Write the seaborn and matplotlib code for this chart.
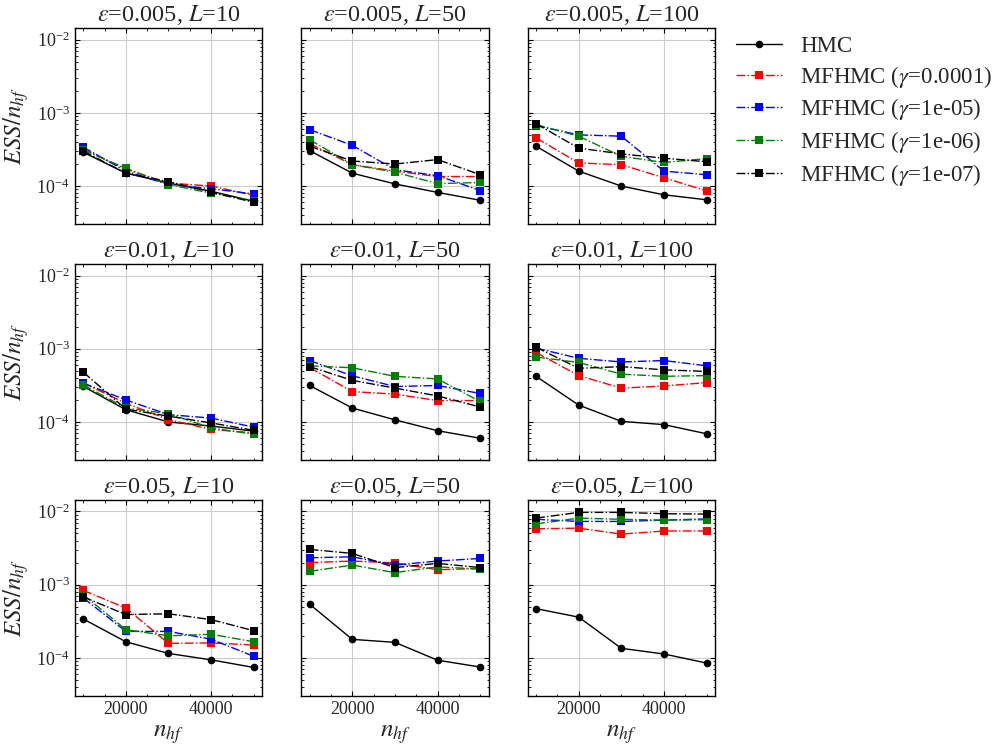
import numpy as np
import pandas as pd
import seaborn as sns
import matplotlib.pyplot as plt
from matplotlib.ticker import AutoMinorLocator, LogLocator, NullFormatter

# sample sizes
n_hf = [10000, 20000, 30000, 40000, 50000]

eps_list = [0.005, 0.01, 0.05]
L_list = [10, 50, 100]

legend_labels = ['HMC', r'MFHMC ($\gamma$=0.0001)', r'MFHMC ($\gamma$=1e-05)',
                 r'MFHMC ($\gamma$=1e-06)', r'MFHMC ($\gamma$=1e-07)']
colors = ['black', 'red', 'blue', 'green', 'black']
markers = ['o', 's', 's', 's', 's']
linestyles = ['-', '-.', '-.', '-.', '-.']

# ESS / n_hf, one list per (eps, L) panel, order = legend_labels
ess_005_10 = [
    [2.9e-4, 1.5e-4, 1.1e-4, 8.5e-5, 6.2e-5],
    [3.2e-4, 1.7e-4, 1.1e-4, 1.0e-4, 7.5e-5],
    [3.4e-4, 1.6e-4, 1.05e-4, 9.2e-5, 7.8e-5],
    [3.1e-4, 1.75e-4, 1.05e-4, 8.0e-5, 6.3e-5],
    [3.0e-4, 1.5e-4, 1.15e-4, 8.3e-5, 6.0e-5],
]
ess_005_50 = [
    [3.05e-4, 1.5e-4, 1.07e-4, 8.2e-5, 6.4e-5],
    [3.8e-4, 1.96e-4, 1.6e-4, 1.35e-4, 1.35e-4],
    [5.9e-4, 3.6e-4, 1.67e-4, 1.39e-4, 8.7e-5],
    [4.3e-4, 1.96e-4, 1.55e-4, 1.08e-4, 1.12e-4],
    [3.5e-4, 2.2e-4, 2.0e-4, 2.3e-4, 1.43e-4],
]
ess_005_100 = [
    [3.5e-4, 1.6e-4, 1.0e-4, 7.6e-5, 6.5e-5],
    [4.55e-4, 2.07e-4, 1.96e-4, 1.3e-4, 8.6e-5],
    [6.7e-4, 5.0e-4, 4.8e-4, 1.6e-4, 1.43e-4],
    [6.9e-4, 4.8e-4, 2.55e-4, 2.1e-4, 2.37e-4],
    [7.1e-4, 3.3e-4, 2.75e-4, 2.4e-4, 2.15e-4],
]
ess_01_10 = [
    [3.06e-4, 1.47e-4, 1.0e-4, 8.8e-5, 7.5e-5],
    [3.4e-4, 1.8e-4, 1.08e-4, 7.9e-5, 7.1e-5],
    [3.4e-4, 2.0e-4, 1.26e-4, 1.13e-4, 8.5e-5],
    [3.2e-4, 1.55e-4, 1.3e-4, 8.3e-5, 6.8e-5],
    [4.8e-4, 1.5e-4, 1.2e-4, 9.7e-5, 7.7e-5],
]
ess_01_50 = [
    [3.15e-4, 1.55e-4, 1.07e-4, 7.6e-5, 6.0e-5],
    [5.55e-4, 2.6e-4, 2.4e-4, 1.96e-4, 1.96e-4],
    [6.9e-4, 4.27e-4, 3.05e-4, 3.15e-4, 2.45e-4],
    [5.85e-4, 5.5e-4, 4.2e-4, 3.87e-4, 1.9e-4],
    [5.7e-4, 3.7e-4, 2.9e-4, 2.27e-4, 1.6e-4],
]
ess_01_100 = [
    [4.2e-4, 1.7e-4, 1.02e-4, 9.2e-5, 6.9e-5],
    [8.9e-4, 4.3e-4, 2.9e-4, 3.1e-4, 3.45e-4],
    [1.02e-3, 7.4e-4, 6.6e-4, 6.9e-4, 5.85e-4],
    [7.7e-4, 6.5e-4, 4.5e-4, 4.2e-4, 4.3e-4],
    [1.05e-3, 5.4e-4, 5.7e-4, 5.15e-4, 4.9e-4],
]
ess_05_10 = [
    [3.4e-4, 1.66e-4, 1.15e-4, 9.4e-5, 7.4e-5],
    [8.35e-4, 4.8e-4, 1.58e-4, 1.6e-4, 1.5e-4],
    [6.6e-4, 2.3e-4, 2.3e-4, 1.8e-4, 1.05e-4],
    [7.3e-4, 2.43e-4, 2.0e-4, 2.1e-4, 1.66e-4],
    [6.8e-4, 3.9e-4, 4.0e-4, 3.33e-4, 2.35e-4],
]
ess_05_50 = [
    [5.4e-4, 1.79e-4, 1.63e-4, 9.3e-5, 7.5e-5],
    [2.0e-3, 2.1e-3, 1.98e-3, 1.6e-3, 1.66e-3],
    [2.33e-3, 2.4e-3, 1.85e-3, 2.1e-3, 2.28e-3],
    [1.52e-3, 1.85e-3, 1.46e-3, 1.75e-3, 1.63e-3],
    [3.03e-3, 2.67e-3, 1.71e-3, 1.95e-3, 1.71e-3],
]
ess_05_100 = [
    [4.7e-4, 3.6e-4, 1.35e-4, 1.13e-4, 8.5e-5],
    [5.8e-3, 5.9e-3, 4.9e-3, 5.4e-3, 5.4e-3],
    [7.8e-3, 7.3e-3, 7.3e-3, 7.6e-3, 7.9e-3],
    [6.75e-3, 8.1e-3, 7.8e-3, 7.6e-3, 7.7e-3],
    [8.1e-3, 9.7e-3, 9.7e-3, 9.3e-3, 9.2e-3],
]

panels = [[ess_005_10, ess_005_50, ess_005_100],
          [ess_01_10, ess_01_50, ess_01_100],
          [ess_05_10, ess_05_50, ess_05_100]]

sns.set_theme(style='ticks')
plt.rcParams['font.family'] = ['Liberation Serif', 'DejaVu Serif']
plt.rcParams['mathtext.fontset'] = 'stix'
plt.rcParams['xtick.direction'] = 'in'
plt.rcParams['ytick.direction'] = 'in'
plt.rcParams['xtick.top'] = True
plt.rcParams['ytick.right'] = True
plt.rcParams['axes.edgecolor'] = 'black'
plt.rcParams['axes.linewidth'] = 1.0

fig, axes = plt.subplots(3, 3, figsize=(9.96, 7.51), dpi=100, sharex=True, sharey=True)
fig.subplots_adjust(left=0.075, right=0.718, top=0.963, bottom=0.073, wspace=0.207, hspace=0.2)

for i, eps in enumerate(eps_list):
    for j, L in enumerate(L_list):
        ax = axes[i, j]
        data = panels[i][j]
        for k, lab in enumerate(legend_labels):
            df = pd.DataFrame({'n_hf': n_hf, 'ess': data[k]})
            sns.lineplot(data=df, x='n_hf', y='ess', ax=ax, color=colors[k], marker=markers[k],
                         linestyle=linestyles[k], markersize=6 if markers[k] == 's' else 5.5,
                         markeredgewidth=0, linewidth=1.0, label=lab, legend=False)
        ax.set_yscale('log')
        ax.set_ylim(3e-5, 1.45e-2)
        ax.set_xlim(8000, 52000)
        ax.set_xticks([20000, 40000])
        ax.xaxis.set_minor_locator(AutoMinorLocator(4))
        ax.yaxis.set_major_locator(LogLocator(base=10, numticks=10))
        ax.yaxis.set_minor_locator(LogLocator(base=10, subs=np.arange(2, 10), numticks=20))
        ax.yaxis.set_minor_formatter(NullFormatter())
        ax.grid(True, which='major', color='#cccccc', linewidth=0.8)
        ax.tick_params(which='major', length=3.5, width=0.8, labelsize=13, color='black')
        ax.tick_params(which='minor', length=1.8, width=0.6, color='black')
        ax.set_title(r'$\varepsilon$=' + str(eps) + r', $L$=' + str(L), fontsize=17.5, pad=5)
        ax.set_xlabel(r'$n_{hf}$' if i == 2 else '', fontsize=18)
        ax.set_ylabel(r'$ESS/n_{hf}$' if j == 0 else '', fontsize=18)

handles, labels = axes[0, 0].get_legend_handles_labels()
fig.legend(handles, labels, loc='upper left', bbox_to_anchor=(0.718, 0.98), frameon=False,
           fontsize=16.5, handlelength=2.0, handletextpad=0.8, labelspacing=0.3)

fig.savefig('out.png', dpi=100)
